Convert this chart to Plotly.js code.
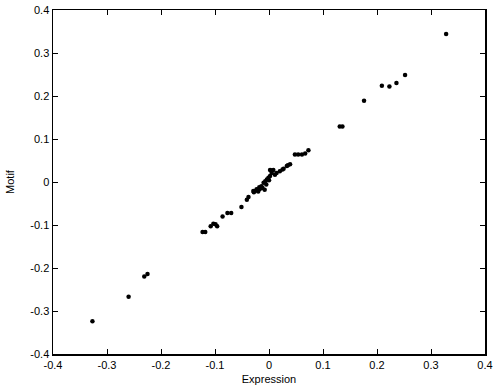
<!DOCTYPE html>
<html>
<head>
<meta charset="utf-8">
<script src="https://cdn.plot.ly/plotly-3.0.1.min.js"></script>
<style>html,body{margin:0;padding:0;background:#fff;}#chart{width:493px;height:392px;}</style>
</head>
<body>
<div id="chart"></div>
<script>
var expression = [0.328, 0.209, 0.223, 0.236, 0.252, 0.176, 0.131, 0.136,
  -0.327, -0.260, -0.231, -0.225,
  -0.123, -0.118, -0.108, -0.103, -0.099, -0.096,
  -0.086, -0.077, -0.070, -0.051, -0.041, -0.038, -0.028,
  -0.029, -0.026, -0.023, -0.017, -0.014, -0.010, -0.007, -0.004, -0.001,
  0.002, 0.005, 0.008, 0.002, 0.004, 0.011, 0.014, 0.020, 0.025, 0.027,
  0.033, 0.035, 0.039, 0.048, 0.054, 0.061, 0.067, 0.073,
  -0.020, -0.012, -0.005, 0.000, -0.018, -0.008];
var motif = [0.344, 0.224, 0.222, 0.230, 0.249, 0.189, 0.129, 0.129,
  -0.324, -0.267, -0.220, -0.214,
  -0.116, -0.116, -0.103, -0.097, -0.098, -0.103,
  -0.080, -0.072, -0.072, -0.058, -0.041, -0.035, -0.024,
  -0.021, -0.021, -0.017, -0.016, -0.010, -0.002, 0.002, 0.006, 0.010,
  0.014, 0.021, 0.028, 0.028, 0.027, 0.017, 0.021, 0.025, 0.029, 0.031,
  0.037, 0.039, 0.041, 0.064, 0.064, 0.064, 0.066, 0.074,
  -0.022, -0.014, -0.006, 0.004, -0.012, -0.018];
var tickVals = [-0.4, -0.3, -0.2, -0.1, 0, 0.1, 0.2, 0.3, 0.4];
var tickText = ['-0.4', '-0.3', '-0.2', '-0.1', '0', '0.1', '0.2', '0.3', '0.4'];

var trace = {
  x: expression, y: motif, type: 'scatter', mode: 'markers',
  marker: {color: '#000', size: 4.5, symbol: 'circle'},
  hoverinfo: 'none'
};
var axisCommon = {
  range: [-0.4, 0.4], tickvals: tickVals, ticktext: tickText,
  ticks: 'inside', ticklen: 5, tickwidth: 1, tickcolor: '#000',
  showline: true, linecolor: '#000', linewidth: 1.5, mirror: 'ticks',
  showgrid: false, zeroline: false,
  tickfont: {family: 'Liberation Sans, Arial, sans-serif', size: 11, color: '#000'}
};
var layout = {
  width: 493, height: 392,
  margin: {l: 53, r: 8, t: 10, b: 38},
  paper_bgcolor: '#fff', plot_bgcolor: '#fff',
  showlegend: false,
  xaxis: Object.assign({}, axisCommon, {
    title: {text: 'Expression', font: {family: 'Liberation Sans, Arial, sans-serif', size: 11, color: '#000'}, standoff: 5}
  }),
  yaxis: Object.assign({}, axisCommon, {
    title: {text: 'Motif', font: {family: 'Liberation Sans, Arial, sans-serif', size: 11, color: '#000'}, standoff: 13}
  })
};
Plotly.newPlot('chart', [trace], layout, {staticPlot: true, displayModeBar: false});
</script>
</body>
</html>
